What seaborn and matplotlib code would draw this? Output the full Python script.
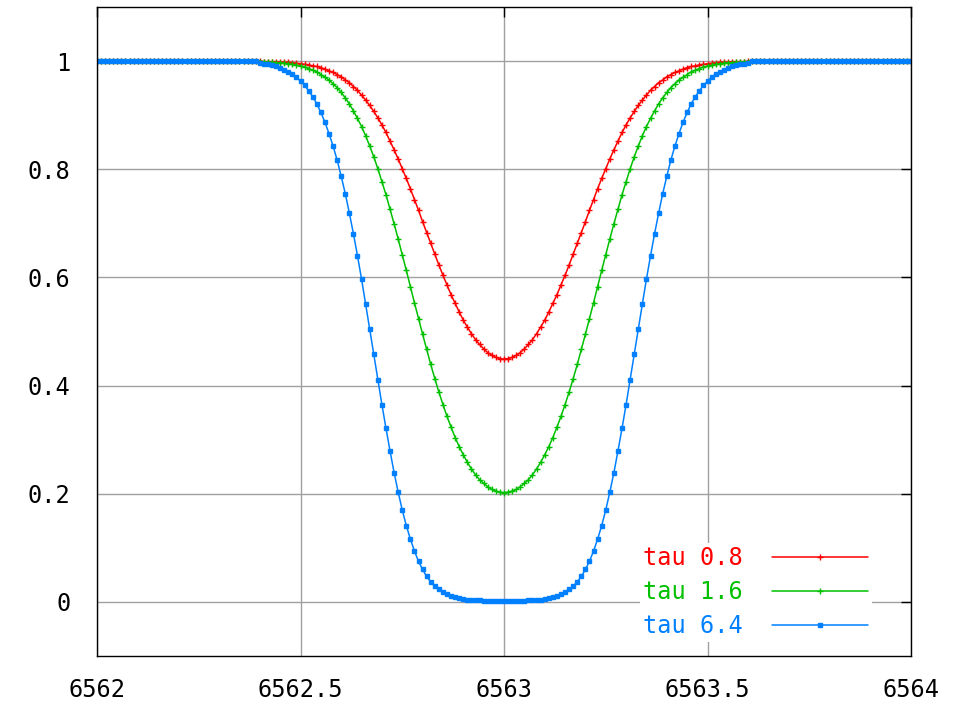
import numpy as np
import matplotlib
matplotlib.use("Agg")
import matplotlib.pyplot as plt
import seaborn as sns

sns.set_theme(style="white")
plt.rcParams['font.family'] = ['DejaVu Sans Mono', 'DejaVu Sans']

# sampling grid (Angstrom), step 0.01
wavelength = np.round(np.arange(6562.00, 6564.0001, 0.01), 2)

# continuum points left / right of the line (flat at 1)
continuum = [1.0] * 40

# line core 6562.40 .. 6563.60
core_tau08 = [
    1.000, 0.999, 0.999, 0.999, 0.999, 0.998, 0.998, 0.998, 0.997, 0.996,
    0.995, 0.994, 0.993, 0.991, 0.990, 0.988, 0.985, 0.982, 0.979, 0.975,
    0.971, 0.965, 0.960, 0.953, 0.946, 0.937, 0.928, 0.918, 0.907, 0.895,
    0.882, 0.868, 0.852, 0.836, 0.819, 0.801, 0.783, 0.764, 0.744, 0.724,
    0.703, 0.683, 0.663, 0.643, 0.623, 0.604, 0.586, 0.568, 0.552, 0.536,
    0.521, 0.508, 0.496, 0.485, 0.476, 0.468, 0.461, 0.456, 0.452, 0.450,
    0.449,
    0.450, 0.452, 0.456, 0.461, 0.468, 0.476, 0.485, 0.496, 0.508, 0.521,
    0.536, 0.552, 0.568, 0.586, 0.604, 0.623, 0.643, 0.663, 0.683, 0.703,
    0.724, 0.744, 0.764, 0.783, 0.801, 0.819, 0.836, 0.852, 0.868, 0.882,
    0.895, 0.907, 0.918, 0.928, 0.937, 0.946, 0.953, 0.960, 0.965, 0.971,
    0.975, 0.979, 0.982, 0.985, 0.988, 0.990, 0.991, 0.993, 0.994, 0.995,
    0.996, 0.997, 0.998, 0.998, 0.998, 0.999, 0.999, 0.999, 0.999, 1.000,
]
core_tau16 = [
    0.999, 0.999, 0.998, 0.998, 0.997, 0.997, 0.996, 0.995, 0.994, 0.992,
    0.991, 0.989, 0.986, 0.983, 0.980, 0.975, 0.970, 0.965, 0.958, 0.951,
    0.942, 0.932, 0.921, 0.908, 0.894, 0.879, 0.862, 0.843, 0.823, 0.801,
    0.777, 0.753, 0.726, 0.699, 0.671, 0.642, 0.613, 0.583, 0.553, 0.524,
    0.495, 0.467, 0.439, 0.413, 0.388, 0.365, 0.343, 0.323, 0.304, 0.287,
    0.272, 0.258, 0.246, 0.235, 0.226, 0.219, 0.213, 0.208, 0.205, 0.203,
    0.202,
    0.203, 0.205, 0.208, 0.213, 0.219, 0.226, 0.235, 0.246, 0.258, 0.272,
    0.287, 0.304, 0.323, 0.343, 0.365, 0.388, 0.413, 0.439, 0.467, 0.495,
    0.524, 0.553, 0.583, 0.613, 0.642, 0.671, 0.699, 0.726, 0.753, 0.777,
    0.801, 0.823, 0.843, 0.862, 0.879, 0.894, 0.908, 0.921, 0.932, 0.942,
    0.951, 0.958, 0.965, 0.970, 0.975, 0.980, 0.983, 0.986, 0.989, 0.991,
    0.992, 0.994, 0.995, 0.996, 0.997, 0.997, 0.998, 0.998, 0.999, 0.999,
]
core_tau64 = [
    0.996, 0.995, 0.994, 0.992, 0.990, 0.987, 0.984, 0.980, 0.976, 0.970,
    0.963, 0.955, 0.945, 0.934, 0.921, 0.905, 0.887, 0.866, 0.843, 0.817,
    0.787, 0.755, 0.719, 0.681, 0.640, 0.597, 0.551, 0.505, 0.458, 0.411,
    0.365, 0.321, 0.279, 0.239, 0.203, 0.170, 0.141, 0.116, 0.094, 0.075,
    0.060, 0.047, 0.037, 0.029, 0.023, 0.018, 0.014, 0.011, 0.009, 0.007,
    0.005, 0.004, 0.004, 0.003, 0.003, 0.002, 0.002, 0.002, 0.002, 0.002,
    0.002,
    0.002, 0.002, 0.002, 0.002, 0.002, 0.003, 0.003, 0.004, 0.004, 0.005,
    0.007, 0.009, 0.011, 0.014, 0.018, 0.023, 0.029, 0.037, 0.047, 0.060,
    0.075, 0.094, 0.116, 0.141, 0.170, 0.203, 0.239, 0.279, 0.321, 0.365,
    0.411, 0.458, 0.505, 0.551, 0.597, 0.640, 0.681, 0.719, 0.755, 0.787,
    0.817, 0.843, 0.866, 0.887, 0.905, 0.921, 0.934, 0.945, 0.955, 0.963,
    0.970, 0.976, 0.980, 0.984, 0.987, 0.990, 0.992, 0.994, 0.995, 0.996,
]

flux_tau08 = continuum + core_tau08 + continuum
flux_tau16 = continuum + core_tau16 + continuum
flux_tau64 = continuum + core_tau64 + continuum

labels = ['tau 0.8', 'tau 1.6', 'tau 6.4']
colors = ['#ff0000', '#00c000', '#0080ff']
markers = ['+', '+', 's']
msizes = [4, 4, 3.2]

xticks = [6562, 6562.5, 6563, 6563.5, 6564]
xtick_labels = ['6562', '6562.5', '6563', '6563.5', '6564']
yticks = [0, 0.2, 0.4, 0.6, 0.8, 1]
ytick_labels = ['0', '0.2', '0.4', '0.6', '0.8', '1']

fig = plt.figure(figsize=(9.75, 7.05), dpi=100)
ax = fig.add_axes([97 / 975, 1 - 656 / 705, 814 / 975, 649 / 705])

for flux, lab, col, mk, ms in zip([flux_tau08, flux_tau16, flux_tau64],
                                   labels, colors, markers, msizes):
    sns.lineplot(x=wavelength, y=flux, ax=ax, color=col, label=lab,
                 linewidth=1.1, marker=mk, markersize=ms,
                 markeredgewidth=1.0, markeredgecolor=col, markerfacecolor=col)

ax.set_xlim(6562, 6564)
ax.set_ylim(-0.1, 1.1)
ax.set_xticks(xticks)
ax.set_xticklabels(xtick_labels)
ax.set_yticks(yticks)
ax.set_yticklabels(ytick_labels)
ax.grid(True, color='#a0a0a0', linewidth=1.0)
ax.set_axisbelow(True)
for sp in ax.spines.values():
    sp.set_color('black')
    sp.set_linewidth(1.0)
ax.tick_params(direction='in', length=7, width=1, colors='black',
               labelsize=17, top=True, right=True)
ax.tick_params(axis='y', pad=19)
ax.tick_params(axis='x', pad=16)

leg = ax.legend(loc='lower right', bbox_to_anchor=(0.952, 0.022),
                markerfirst=False, numpoints=1, handlelength=4.1,
                handletextpad=1.2, labelspacing=0.42, fontsize=17,
                frameon=True, facecolor='white', edgecolor='none',
                framealpha=1.0, labelcolor='linecolor', borderpad=0.15,
                borderaxespad=0.0)

fig.savefig('out.png', dpi=100, facecolor='white')
